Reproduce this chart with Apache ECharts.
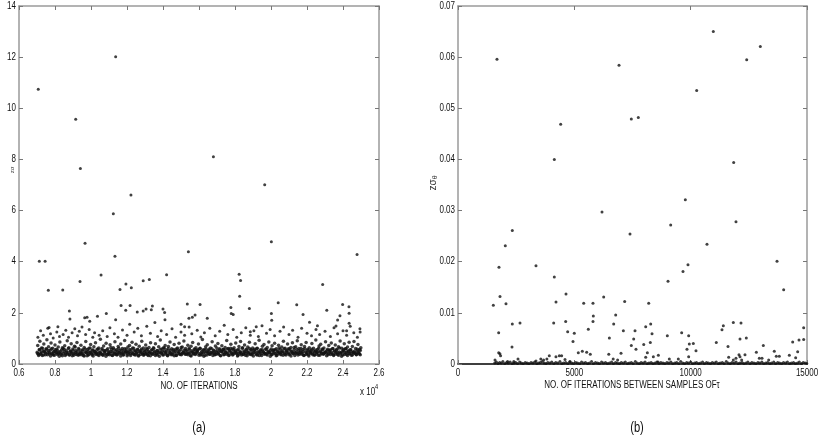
<!DOCTYPE html>
<html>
<head>
<meta charset="utf-8">
<script src="https://cdn.jsdelivr.net/npm/echarts@6/dist/echarts.min.js"></script>
<style>
  html, body { margin: 0; padding: 0; background: #fff; }
  #chart { width: 818px; height: 440px; }
</style>
</head>
<body>
<div id="chart"></div>
<script>
// tick labels
var ticksA_x = [0.6, 0.8, 1, 1.2, 1.4, 1.6, 1.8, 2, 2.2, 2.4, 2.6];
var ticksA_y = [0, 2, 4, 6, 8, 10, 12, 14];
var ticksB_x = [0, 5000, 10000, 15000];
var ticksB_y = [0, 0.01, 0.02, 0.03, 0.04, 0.05, 0.06, 0.07];

// (a) dense band, x in units of 1e4
var bandA = [
  [0.701,0.46],[0.704,0.72],[0.709,0.38],[0.713,0.57],[0.716,0.89],[0.721,0.42],[0.725,0.63],[0.729,0.33],[0.734,0.51],[0.738,0.78],
  [0.742,0.47],[0.747,0.36],[0.751,0.60],[0.755,0.95],[0.760,0.44],[0.764,0.67],[0.769,0.39],[0.773,0.54],[0.778,0.82],[0.782,0.41],
  [0.787,0.62],[0.791,0.35],[0.796,0.49],[0.800,0.74],[0.805,0.43],[0.809,0.58],[0.814,0.37],[0.818,0.66],[0.823,0.46],[0.827,0.86],
  [0.832,0.40],[0.836,0.55],[0.841,0.32],[0.845,0.61],[0.850,0.48],[0.854,0.71],[0.859,0.38],[0.863,0.52],[0.868,0.91],[0.872,0.44],
  [0.877,0.64],[0.881,0.36],[0.886,0.50],[0.890,0.79],[0.895,0.42],[0.899,0.59],[0.904,0.34],[0.908,0.69],[0.913,0.45],[0.917,0.53],
  [0.922,0.84],[0.926,0.39],[0.931,0.61],[0.935,0.37],[0.940,0.47],[0.944,0.73],[0.949,0.41],[0.953,0.56],[0.958,0.33],[0.962,0.65],
  [0.967,0.48],[0.971,0.88],[0.976,0.43],[0.980,0.57],[0.985,0.35],[0.989,0.62],[0.994,0.46],[0.998,0.76],[1.003,0.40],[1.007,0.54],
  [1.012,0.31],[1.016,0.67],[1.021,0.49],[1.025,0.83],[1.030,0.42],[1.034,0.58],[1.039,0.36],[1.043,0.63],[1.048,0.45],[1.052,0.97],
  [1.057,0.41],[1.061,0.55],[1.066,0.34],[1.070,0.70],[1.075,0.47],[1.079,0.52],[1.084,0.81],[1.088,0.38],[1.093,0.60],[1.097,0.44],
  [1.102,0.36],[1.106,0.75],[1.111,0.49],[1.115,0.57],[1.120,0.33],[1.124,0.64],[1.129,0.43],[1.133,0.87],[1.138,0.40],[1.142,0.56],
  [1.147,0.37],[1.151,0.68],[1.156,0.46],[1.160,0.53],[1.165,0.78],[1.169,0.42],[1.174,0.61],[1.178,0.35],[1.183,0.50],[1.187,0.92],
  [1.192,0.44],[1.196,0.59],[1.201,0.32],[1.205,0.66],[1.210,0.48],[1.214,0.72],[1.219,0.39],[1.223,0.55],[1.228,0.85],[1.232,0.41],
  [1.237,0.62],[1.241,0.36],[1.246,0.51],[1.250,0.77],[1.255,0.45],[1.259,0.58],[1.264,0.34],[1.268,0.69],[1.273,0.47],[1.277,0.54],
  [1.282,0.89],[1.286,0.40],[1.291,0.63],[1.295,0.37],[1.300,0.49],[1.304,0.74],[1.309,0.43],[1.313,0.57],[1.318,0.33],[1.322,0.65],
  [1.327,0.46],[1.331,0.83],[1.336,0.42],[1.340,0.56],[1.345,0.38],[1.349,0.61],[1.354,0.48],[1.358,0.79],[1.363,0.41],[1.367,0.53],
  [1.372,0.35],[1.376,0.67],[1.381,0.46],[1.385,0.94],[1.390,0.44],[1.394,0.59],[1.399,0.36],[1.403,0.64],[1.408,0.50],[1.412,0.72],
  [1.417,0.39],[1.421,0.55],[1.426,0.32],[1.430,0.68],[1.435,0.47],[1.439,0.86],[1.444,0.42],[1.448,0.60],[1.453,0.37],[1.457,0.52],
  [1.462,0.76],[1.466,0.44],[1.471,0.58],[1.475,0.34],[1.480,0.63],[1.484,0.48],[1.489,0.81],[1.493,0.40],[1.498,0.56],[1.502,0.36],
  [1.507,0.66],[1.511,0.45],[1.516,0.90],[1.520,0.43],[1.525,0.61],[1.529,0.38],[1.534,0.51],[1.538,0.73],[1.543,0.42],[1.547,0.57],
  [1.552,0.33],[1.556,0.69],[1.561,0.47],[1.565,0.84],[1.570,0.41],[1.574,0.59],[1.579,0.37],[1.583,0.64],[1.588,0.46],[1.592,0.53],
  [1.597,0.78],[1.601,0.40],[1.606,0.62],[1.610,0.35],[1.615,0.49],[1.619,0.96],[1.624,0.44],[1.628,0.56],[1.633,0.34],[1.637,0.67],
  [1.642,0.48],[1.646,0.75],[1.651,0.41],[1.655,0.58],[1.660,0.38],[1.664,0.63],[1.669,0.45],[1.673,0.87],[1.678,0.43],[1.682,0.54],
  [1.687,0.36],[1.691,0.70],[1.696,0.47],[1.700,0.52],[1.705,0.80],[1.709,0.39],[1.714,0.60],[1.718,0.33],[1.723,0.50],[1.727,0.71],
  [1.732,0.44],[1.736,0.57],[1.741,0.37],[1.745,0.65],[1.750,0.46],[1.754,0.92],[1.759,0.42],[1.763,0.61],[1.768,0.35],[1.772,0.53],
  [1.777,0.77],[1.781,0.45],[1.786,0.59],[1.790,0.38],[1.795,0.64],[1.799,0.48],[1.804,0.82],[1.808,0.41],[1.813,0.55],[1.817,0.34],
  [1.822,0.68],[1.826,0.46],[1.831,0.88],[1.835,0.43],[1.840,0.62],[1.844,0.37],[1.849,0.51],[1.853,0.74],[1.858,0.42],[1.862,0.58],
  [1.867,0.32],[1.871,0.66],[1.876,0.47],[1.880,0.85],[1.885,0.40],[1.889,0.57],[1.894,0.36],[1.898,0.63],[1.903,0.45],[1.907,0.54],
  [1.912,0.79],[1.916,0.41],[1.921,0.61],[1.925,0.35],[1.930,0.49],[1.934,0.93],[1.939,0.44],[1.943,0.56],[1.948,0.33],[1.952,0.69],
  [1.957,0.48],[1.961,0.76],[1.966,0.42],[1.970,0.59],[1.975,0.38],[1.979,0.65],[1.984,0.46],[1.988,0.86],[1.993,0.43],[1.997,0.53],
  [2.002,0.37],[2.006,0.71],[2.011,0.47],[2.015,0.55],[2.020,0.81],[2.024,0.40],[2.029,0.60],[2.033,0.34],[2.038,0.51],[2.042,0.73],
  [2.047,0.45],[2.051,0.58],[2.056,0.36],[2.060,0.66],[2.065,0.47],[2.069,0.89],[2.074,0.43],[2.078,0.62],[2.083,0.35],[2.087,0.52],
  [2.092,0.78],[2.096,0.44],[2.101,0.60],[2.105,0.39],[2.110,0.65],[2.114,0.49],[2.119,0.83],[2.123,0.41],[2.128,0.56],[2.132,0.33],
  [2.137,0.67],[2.141,0.46],[2.146,0.91],[2.150,0.42],[2.155,0.61],[2.159,0.38],[2.164,0.50],[2.168,0.75],[2.173,0.43],[2.177,0.57],
  [2.182,0.34],[2.186,0.68],[2.191,0.48],[2.195,0.84],[2.200,0.40],[2.204,0.58],[2.209,0.36],[2.213,0.64],[2.218,0.46],[2.222,0.53],
  [2.227,0.80],[2.231,0.42],[2.236,0.62],[2.240,0.35],[2.245,0.48],[2.249,0.94],[2.254,0.45],[2.258,0.57],[2.263,0.34],[2.267,0.70],
  [2.272,0.47],[2.276,0.77],[2.281,0.41],[2.285,0.59],[2.290,0.38],[2.294,0.63],[2.299,0.46],[2.303,0.87],[2.308,0.44],[2.312,0.54],
  [2.317,0.36],[2.321,0.72],[2.326,0.48],[2.330,0.56],[2.335,0.82],[2.339,0.40],[2.344,0.61],[2.348,0.33],[2.353,0.50],[2.357,0.74],
  [2.362,0.45],[2.366,0.58],[2.371,0.37],[2.375,0.67],[2.380,0.47],[2.384,0.90],[2.389,0.43],[2.393,0.62],[2.398,0.35],[2.402,0.52],
  [2.407,0.79],[2.411,0.44],[2.416,0.60],[2.420,0.38],[2.425,0.66],[2.429,0.49],[2.434,0.85],[2.438,0.41],[2.443,0.56],[2.447,0.34],
  [2.452,0.68],[2.456,0.46],[2.461,0.88],[2.465,0.42],[2.470,0.61],[2.474,0.37],[2.479,0.51],[2.483,0.76],[2.488,0.43],[2.492,0.57],
  [2.496,0.36],[2.499,0.64]
];

// (a) second layer of the band core
var coreX = [
  0.703,0.709,0.714,0.720,0.725,0.731,0.736,0.742,0.747,0.753, 0.758,0.764,0.769,0.775,0.780,0.786,0.791,0.797,0.802,0.808,
  0.813,0.819,0.824,0.830,0.835,0.841,0.846,0.852,0.857,0.863, 0.868,0.874,0.879,0.885,0.890,0.896,0.901,0.907,0.912,0.918,
  0.923,0.929,0.934,0.940,0.945,0.951,0.956,0.962,0.967,0.973, 0.978,0.984,0.989,0.995,1.000,1.006,1.011,1.017,1.022,1.028,
  1.033,1.039,1.044,1.050,1.055,1.061,1.066,1.072,1.077,1.083, 1.088,1.094,1.099,1.105,1.110,1.116,1.121,1.127,1.132,1.138,
  1.143,1.149,1.154,1.160,1.165,1.171,1.176,1.182,1.187,1.193, 1.198,1.204,1.209,1.215,1.220,1.226,1.231,1.237,1.242,1.248,
  1.253,1.259,1.264,1.270,1.275,1.281,1.286,1.292,1.297,1.303, 1.308,1.314,1.319,1.325,1.330,1.336,1.341,1.347,1.352,1.358,
  1.363,1.369,1.374,1.380,1.385,1.391,1.396,1.402,1.407,1.413, 1.418,1.424,1.429,1.435,1.440,1.446,1.451,1.457,1.462,1.468,
  1.473,1.479,1.484,1.490,1.495,1.501,1.506,1.512,1.517,1.523, 1.528,1.534,1.539,1.545,1.550,1.556,1.561,1.567,1.572,1.578,
  1.583,1.589,1.594,1.600,1.605,1.611,1.616,1.622,1.627,1.633, 1.638,1.644,1.649,1.655,1.660,1.666,1.671,1.677,1.682,1.688,
  1.693,1.699,1.704,1.710,1.715,1.721,1.726,1.732,1.737,1.743, 1.748,1.754,1.759,1.765,1.770,1.776,1.781,1.787,1.792,1.798,
  1.803,1.809,1.814,1.820,1.825,1.831,1.836,1.842,1.847,1.853, 1.858,1.864,1.869,1.875,1.880,1.886,1.891,1.897,1.902,1.908,
  1.913,1.919,1.924,1.930,1.935,1.941,1.946,1.952,1.957,1.963, 1.968,1.974,1.979,1.985,1.990,1.996,2.001,2.007,2.012,2.018,
  2.023,2.029,2.034,2.040,2.045,2.051,2.056,2.062,2.067,2.073, 2.078,2.084,2.089,2.095,2.100,2.106,2.111,2.117,2.122,2.128,
  2.133,2.139,2.144,2.150,2.155,2.161,2.166,2.172,2.177,2.183, 2.188,2.194,2.199,2.205,2.210,2.216,2.221,2.227,2.232,2.238,
  2.243,2.249,2.254,2.260,2.265,2.271,2.276,2.282,2.287,2.293, 2.298,2.304,2.309,2.315,2.320,2.326,2.331,2.337,2.342,2.348,
  2.353,2.359,2.364,2.370,2.375,2.381,2.386,2.392,2.397,2.403, 2.408,2.414,2.419,2.425,2.430,2.436,2.441,2.447,2.452,2.458,
  2.463,2.469,2.474,2.480,2.485,2.491,2.496
];
var coreY = [
  0.41,0.33,0.55,0.38,0.47,0.62,0.35,0.50,0.43,0.58, 0.36,0.52,0.44,0.31,0.60,0.39,0.48,0.34,0.56,0.45,
  0.53,0.40,0.30,0.49,0.37,0.64,0.42,0.57,0.33,0.46, 0.39,0.61,0.35,0.51,0.44,0.32,0.54,0.41,0.66,0.37,
  0.48,0.34,0.57,0.43,0.36,0.52,0.40,0.31,0.59,0.45, 0.32,0.50,0.38,0.63,0.46,0.35,0.55,0.42,0.49,0.37,
  0.44,0.58,0.33,0.47,0.39,0.61,0.36,0.53,0.41,0.30, 0.55,0.37,0.49,0.42,0.65,0.34,0.46,0.58,0.38,0.51,
  0.35,0.47,0.62,0.40,0.31,0.54,0.43,0.36,0.60,0.48, 0.50,0.38,0.44,0.57,0.33,0.46,0.63,0.39,0.52,0.35,
  0.42,0.56,0.31,0.48,0.37,0.59,0.45,0.34,0.53,0.40, 0.61,0.36,0.50,0.43,0.32,0.55,0.39,0.64,0.47,0.33,
  0.38,0.52,0.45,0.30,0.58,0.41,0.49,0.35,0.62,0.44, 0.47,0.34,0.60,0.39,0.53,0.36,0.43,0.57,0.32,0.50,
  0.33,0.59,0.42,0.51,0.37,0.65,0.40,0.46,0.54,0.38, 0.54,0.41,0.36,0.62,0.45,0.31,0.52,0.39,0.48,0.57,
  0.40,0.49,0.56,0.34,0.61,0.43,0.37,0.55,0.30,0.46, 0.58,0.35,0.47,0.52,0.38,0.44,0.60,0.33,0.51,0.42,
  0.37,0.63,0.40,0.46,0.55,0.32,0.49,0.57,0.36,0.53, 0.45,0.38,0.59,0.33,0.50,0.62,0.41,0.35,0.56,0.43,
  0.52,0.44,0.31,0.57,0.40,0.48,0.35,0.64,0.39,0.47, 0.34,0.55,0.46,0.39,0.61,0.37,0.53,0.42,0.31,0.58,
  0.49,0.36,0.62,0.44,0.33,0.51,0.40,0.56,0.47,0.38, 0.41,0.57,0.35,0.50,0.45,0.30,0.59,0.37,0.54,0.43,
  0.56,0.32,0.48,0.41,0.63,0.39,0.46,0.52,0.34,0.60, 0.38,0.51,0.43,0.59,0.36,0.55,0.31,0.47,0.42,0.65,
  0.46,0.40,0.57,0.35,0.52,0.44,0.61,0.38,0.49,0.33, 0.60,0.37,0.45,0.53,0.31,0.48,0.41,0.58,0.36,0.50,
  0.35,0.54,0.39,0.47,0.62,0.34,0.51,0.43,0.56,0.40, 0.43,0.48,0.32,0.58,0.41,0.53,0.37,0.45,0.60,0.36,
  0.51,0.39,0.55,0.44,0.34,0.63,0.42,0.30,0.49,0.57, 0.37,0.60,0.46,0.33,0.52,0.40,0.56,0.48,0.35,0.44,
  0.50,0.42,0.36,0.58,0.45,0.39,0.53
];

// (a) sparse points between 1 and 1.6
var midA = [
  [0.705,1.05],[0.72,1.30],[0.735,1.12],[0.76,1.40],[0.775,1.18],[0.79,1.02],[0.81,1.25],[0.825,1.08],[0.845,1.15],[0.86,1.32],
  [0.875,1.05],[0.895,1.22],[0.91,1.38],[0.925,1.10],[0.935,1.28],[0.95,1.45],[0.97,1.15],[0.99,1.35],[1.01,1.05],[1.02,1.22],
  [1.045,1.12],[1.065,1.30],[1.09,1.08],[1.105,1.42],[1.13,1.18],[1.15,1.05],[1.175,1.33],[1.2,1.12],[1.215,1.55],[1.24,1.25],
  [1.26,1.40],[1.28,1.10],[1.31,1.48],[1.33,1.20],[1.355,1.62],[1.37,1.08],[1.39,1.30],[1.42,1.15],[1.45,1.38],[1.47,1.05],
  [1.50,1.25],[1.52,1.12],[1.545,1.45],[1.56,1.18],[1.59,1.32],[1.61,1.06],[1.63,1.22],[1.66,1.40],[1.69,1.10],[1.715,1.28],
  [1.74,1.52],[1.76,1.15],[1.79,1.35],[1.81,1.05],[1.835,1.22],[1.86,1.42],[1.885,1.12],[1.905,1.30],[1.93,1.08],[1.95,1.50],
  [1.975,1.20],[1.995,1.35],[2.02,1.10],[2.05,1.28],[2.07,1.45],[2.10,1.15],[2.12,1.32],[2.15,1.05],[2.17,1.40],[2.20,1.20],
  [2.225,1.10],[2.25,1.35],[2.27,1.15],[2.30,1.28],[2.33,1.08],[2.35,1.42],[2.37,1.18],[2.40,1.30],[2.42,1.12],[2.44,1.48],
  [2.46,1.22],[2.48,1.05],[2.495,1.25]
];

// (a) outliers
var highA = [
  [0.707,10.74],[1.137,12.02],[0.915,9.57],[0.941,7.65],[1.68,8.10],[1.965,7.01],[1.222,6.61],[1.124,5.88],[0.967,4.72],[2.002,4.78],
  [1.133,4.21],[1.541,4.39],[2.478,4.28],[0.713,4.02],[0.745,4.02],[0.763,2.88],[0.843,2.89],[0.939,3.23],[1.056,3.48],[1.161,2.91],
  [1.194,3.13],[1.224,2.98],[1.29,3.26],[1.324,3.30],[1.42,3.49],[1.823,3.51],[1.831,3.27],[1.826,2.65],[2.287,3.11],[1.217,2.29],
  [1.167,2.29],[1.193,2.10],[1.257,2.03],[1.29,2.07],[1.306,2.15],[1.341,2.27],[1.335,2.12],[1.40,2.15],[1.409,2.01],[1.535,2.35],
  [1.606,2.33],[1.777,2.21],[1.779,1.97],[1.79,1.94],[1.88,2.17],[2.04,2.40],[2.143,2.32],[2.31,2.10],[2.398,2.33],[2.433,2.24],
  [2.434,1.98],[2.434,1.59],[2.002,1.97],[2.004,1.71],[0.88,2.07],[0.883,1.76],[0.965,1.81],[0.978,1.83],[0.993,1.67],[1.036,1.87],
  [1.085,1.97],[1.137,1.73],[1.411,1.73],[1.50,1.55],[1.52,1.46],[1.544,1.79],[1.563,1.83],[1.578,1.92],[1.646,1.79],[1.918,1.46],
  [1.885,1.26],[2.178,1.94],[2.214,1.63],[2.258,1.50],[2.361,1.49],[2.37,1.72],[2.383,1.89],[2.42,1.30],[2.494,1.38],[0.767,1.43],
  [0.816,1.46]
];

// (b) points close to zero
var lowB = [
  [1580,0.0002],[1650,0.0004],[1720,0.0001],[1790,0.0003],[1860,0.0002],[1930,0.0005],[2010,0.0001],[2090,0.0003],[2160,0.0002],[2240,0.0004],
  [2330,0.0001],[2410,0.0002],[2480,0.0003],[2560,0.0001],[2650,0.0004],[2720,0.0002],[2800,0.0001],[2890,0.0003],[2970,0.0002],[3050,0.0001],
  [3140,0.0003],[3220,0.0002],[3300,0.0004],[3390,0.0001],[3470,0.0002],[3540,0.0003],[3620,0.0005],[3700,0.0002],[3780,0.0001],[3860,0.0003],
  [3950,0.0002],[4030,0.0004],[4120,0.0001],[4200,0.0003],[4290,0.0002],[4380,0.0005],[4460,0.0001],[4540,0.0002],[4630,0.0003],[4720,0.0001],
  [4800,0.0004],[4890,0.0002],[4970,0.0001],[5060,0.0003],[5140,0.0002],[5230,0.0001],[5310,0.0004],[5400,0.0002],[5480,0.0003],[5570,0.0001],
  [5650,0.0002],[5740,0.0005],[5820,0.0001],[5910,0.0003],[6000,0.0002],[6080,0.0001],[6170,0.0004],[6250,0.0002],[6340,0.0003],[6420,0.0001],
  [6510,0.0002],[6600,0.0004],[6680,0.0001],[6770,0.0003],[6850,0.0002],[6940,0.0001],[7020,0.0003],[7110,0.0002],[7190,0.0004],[7280,0.0001],
  [7360,0.0002],[7450,0.0003],[7530,0.0001],[7620,0.0005],[7700,0.0002],[7790,0.0001],[7870,0.0003],[7960,0.0002],[8040,0.0004],[8130,0.0001],
  [8210,0.0002],[8300,0.0003],[8380,0.0001],[8470,0.0002],[8550,0.0004],[8640,0.0001],[8720,0.0003],[8810,0.0002],[8890,0.0001],[8980,0.0003],
  [9060,0.0002],[9150,0.0004],[9230,0.0001],[9320,0.0002],[9400,0.0003],[9490,0.0001],[9570,0.0005],[9660,0.0002],[9740,0.0001],[9830,0.0003],
  [9910,0.0002],[10000,0.0004],[10080,0.0001],[10170,0.0002],[10250,0.0003],[10340,0.0001],[10420,0.0002],[10510,0.0004],[10590,0.0001],[10680,0.0003],
  [10760,0.0002],[10850,0.0001],[10930,0.0003],[11020,0.0002],[11100,0.0004],[11190,0.0001],[11270,0.0002],[11360,0.0003],[11440,0.0001],[11530,0.0005],
  [11610,0.0002],[11700,0.0001],[11780,0.0003],[11870,0.0002],[11950,0.0004],[12040,0.0001],[12120,0.0002],[12210,0.0003],[12290,0.0001],[12380,0.0002],
  [12460,0.0004],[12550,0.0001],[12630,0.0003],[12720,0.0002],[12800,0.0001],[12890,0.0003],[12970,0.0002],[13060,0.0004],[13140,0.0001],[13230,0.0002],
  [13310,0.0003],[13400,0.0001],[13480,0.0002],[13570,0.0004],[13650,0.0001],[13740,0.0003],[13820,0.0002],[13910,0.0001],[13990,0.0003],[14080,0.0002],
  [14160,0.0004],[14250,0.0001],[14330,0.0002],[14420,0.0003],[14500,0.0001],[14590,0.0002],[14670,0.0004],[14760,0.0001],[14840,0.0003],[14920,0.0002],
  [14990,0.0001]
];

// (b) scattered points
var highB = [
  [1676,0.0596],[6920,0.0584],[10973,0.0650],[12408,0.0595],[12994,0.0621],[10259,0.0535],[4413,0.0469],[7450,0.0479],[7750,0.0482],[4140,0.0400],
  [11849,0.0394],[9770,0.0321],[6189,0.0297],[9142,0.0272],[11948,0.0278],[2334,0.0261],[7393,0.0254],[2033,0.0231],[10702,0.0234],[3352,0.0192],
  [1762,0.0189],[9885,0.0194],[9670,0.0181],[13711,0.0201],[13997,0.0145],[4140,0.0170],[9026,0.0162],[1519,0.0115],[1805,0.0132],[2063,0.0118],
  [4212,0.0121],[4642,0.0137],[5403,0.0119],[5802,0.0119],[6262,0.0131],[7164,0.0122],[8196,0.0119],[1748,0.0061],[2334,0.0078],[2665,0.0080],
  [2321,0.0033],[4112,0.0080],[4628,0.0083],[4714,0.0063],[4999,0.0060],[4943,0.0044],[5802,0.0083],[5817,0.0094],[5602,0.0068],[6778,0.0096],
  [6692,0.0078],[6505,0.0051],[7107,0.0065],[7608,0.0065],[7551,0.0049],[7450,0.0036],[7650,0.0029],[7983,0.0038],[8068,0.0073],[8283,0.0078],
  [8339,0.0059],[8266,0.0042],[8139,0.0022],[8068,0.0013],[8997,0.0055],[9613,0.0061],[9914,0.0055],[9842,0.0029],[9942,0.0039],[10115,0.0040],
  [10229,0.0026],[9914,0.0014],[11101,0.0042],[11346,0.0067],[11404,0.0075],[11605,0.0034],[11833,0.0081],[12163,0.0080],[12120,0.0049],[12392,0.0051],
  [12823,0.0023],[13123,0.0036],[14384,0.0043],[14599,0.0024],[14656,0.0047],[14857,0.0048],[14857,0.0071],[14241,0.0017],[13595,0.0025],[13681,0.0015],
  [13810,0.0015],[12951,0.0011],[13066,0.0011],[13352,0.0008],[14513,0.0012],[11633,0.0013],[11833,0.0008],[11948,0.0011],[12077,0.0018],[12120,0.0014],
  [12192,0.0008],[12335,0.0018],[8396,0.0014],[8611,0.0017],[8597,0.0004],[9083,0.0010],[9470,0.0010],[1750,0.0022],[1800,0.0020],[1830,0.0016],
  [1590,0.0008],[2579,0.0010],[2130,0.0005],[2400,0.0005],[3352,0.0006],[3560,0.0010],[3680,0.0008],[3820,0.0010],[3924,0.0016],[4210,0.0014],
  [4355,0.0016],[4455,0.0016],[4600,0.0009],[4814,0.0005],[5171,0.0022],[5343,0.0025],[5530,0.0023],[5686,0.0019],[6480,0.0019],[6670,0.0010],
  [6860,0.0008],[7006,0.0021]
];

var FONT = "'Liberation Sans', Arial, sans-serif";
var BOX = '#9a9a9a';
var TXT = '#111';
var SQ = 0.8; // the original type is a narrow face

var coreA = coreX.map(function (x, i) { return [x, coreY[i]]; });

var chart = echarts.init(document.getElementById('chart'), null, { renderer: 'canvas' });

function xAx(grid, pos, ticks, lineColor) {
  return {
    gridIndex: grid, type: 'value', position: pos,
    min: ticks[0], max: ticks[ticks.length - 1], interval: ticks[1] - ticks[0],
    axisLine: { show: true, onZero: false, lineStyle: { color: lineColor || BOX, width: 1.5 } },
    axisTick: { show: true, inside: true, length: 4, lineStyle: { color: '#777', width: 1 } },
    axisLabel: { show: false },
    splitLine: { show: false }
  };
}
function yAx(grid, pos, ticks) {
  return {
    gridIndex: grid, type: 'value', position: pos,
    min: ticks[0], max: ticks[ticks.length - 1], interval: ticks[1] - ticks[0],
    axisLine: { show: true, onZero: false, lineStyle: { color: BOX, width: 1.5 } },
    axisTick: { show: true, inside: true, length: 4, lineStyle: { color: '#777', width: 1 } },
    axisLabel: { show: false },
    splitLine: { show: false }
  };
}

var dot = { color: '#111' };

chart.setOption({
  animation: false,
  backgroundColor: '#fff',
  grid: [
    { left: 19, top: 6, width: 360, height: 358 },
    { left: 458, top: 6, width: 349, height: 358 }
  ],
  xAxis: [
    xAx(0, 'bottom', ticksA_x),
    xAx(0, 'top', ticksA_x),
    xAx(1, 'bottom', ticksB_x, '#000'),
    xAx(1, 'top', ticksB_x)
  ],
  yAxis: [
    yAx(0, 'left', ticksA_y),
    yAx(0, 'right', ticksA_y),
    yAx(1, 'left', ticksB_y),
    yAx(1, 'right', ticksB_y)
  ],
  series: [
    { type: 'scatter', xAxisIndex: 0, yAxisIndex: 0, data: bandA, symbolSize: 3.5, itemStyle: dot, silent: true },
    { type: 'scatter', xAxisIndex: 0, yAxisIndex: 0, data: coreA, symbolSize: 3.5, itemStyle: dot, silent: true },
    { type: 'scatter', xAxisIndex: 0, yAxisIndex: 0, data: midA, symbolSize: 3, itemStyle: dot, silent: true },
    { type: 'scatter', xAxisIndex: 0, yAxisIndex: 0, data: highA, symbolSize: 3, itemStyle: dot, silent: true },
    { type: 'scatter', xAxisIndex: 2, yAxisIndex: 2, data: lowB, symbolSize: 3, itemStyle: dot, silent: true },
    { type: 'scatter', xAxisIndex: 2, yAxisIndex: 2, data: highB, symbolSize: 3, itemStyle: dot, silent: true }
  ]
});

// tick labels in a narrow face, placed through the axes' own scales
function label(x, y, text, align, size) {
  return {
    type: 'text', x: x, y: y, scaleX: SQ, silent: true,
    style: { text: text, fill: TXT, font: (size || 10) + 'px ' + FONT, align: align, verticalAlign: 'middle' }
  };
}
var g = [];
ticksA_x.forEach(function (v) {
  g.push(label(chart.convertToPixel({ xAxisIndex: 0 }, v), 373, String(v), 'center'));
});
ticksA_y.forEach(function (v) {
  g.push(label(16, chart.convertToPixel({ yAxisIndex: 0 }, v), String(v), 'right'));
});
ticksB_x.forEach(function (v) {
  g.push(label(chart.convertToPixel({ xAxisIndex: 2 }, v), 373, String(v), 'center'));
});
ticksB_y.forEach(function (v) {
  g.push(label(455, chart.convertToPixel({ yAxisIndex: 2 }, v), String(v), 'right'));
});

g.push(label(199, 386, 'NO. OF ITERATIONS', 'center'));
g.push(label(360, 392, 'x 10', 'left', 10));
g.push(label(375, 387, '4', 'left', 7));
g.push(label(632, 385, 'NO. OF ITERATIONS BETWEEN SAMPLES OFτ', 'center'));
g.push({ type: 'text', x: 12, y: 170, rotation: Math.PI / 2, silent: true,
  style: { text: 'zσ', fill: '#444', font: '6px ' + FONT, align: 'center', verticalAlign: 'middle' } });
g.push({ type: 'text', x: 433, y: 183, rotation: Math.PI / 2, silent: true,
  style: { text: '{m|zσ}{s|θ}', fill: '#333', align: 'center', verticalAlign: 'middle',
    rich: { m: { font: '10px ' + FONT, fill: '#333' }, s: { font: '7px ' + FONT, fill: '#333', verticalAlign: 'bottom', padding: [4, 0, 0, 0] } } } });
g.push(label(199, 428, '(a)', 'center', 14));
g.push(label(637, 428, '(b)', 'center', 14));

chart.setOption({ graphic: g });
</script>
</body>
</html>
